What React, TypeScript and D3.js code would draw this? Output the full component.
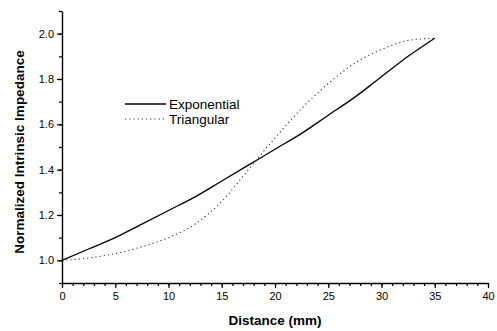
import React, { useEffect, useRef } from 'react';
import * as d3 from 'd3';

// distance (mm) samples and impedance values
const distance = [0, 2.5, 5, 7.5, 10, 12.5, 15, 17.5, 20, 22.5, 25, 27.5, 30, 32.5, 35];
const exponential = [1.0, 1.05, 1.1, 1.16, 1.22, 1.28, 1.35, 1.42, 1.49, 1.56, 1.64, 1.72, 1.81, 1.9, 1.98];
const triangular = [1.0, 1.01, 1.03, 1.06, 1.1, 1.16, 1.26, 1.4, 1.54, 1.67, 1.78, 1.87, 1.93, 1.97, 1.98];
const seriesNames = ['Exponential', 'Triangular'];
const xTicks = [0, 5, 10, 15, 20, 25, 30, 35, 40];
const yTicks = [1.0, 1.2, 1.4, 1.6, 1.8, 2.0];

const W = 497;
const H = 331;

export default function App() {
  const ref = useRef<SVGSVGElement>(null);

  useEffect(() => {
    const svg = d3.select(ref.current);
    svg.selectAll('*').remove();

    const x = d3.scaleLinear().domain([0, 40]).range([62, 488]);
    const y = d3.scaleLinear().domain([0.9, 2.1]).range([283, 11]);
    const font = 'Arial, "Liberation Sans", sans-serif';

    // axes
    const xAxis = svg.append('g').attr('transform', `translate(0,${y(0.9)})`);
    xAxis.call(
      d3.axisBottom(x).tickValues(d3.range(0, 41, 1)).tickSize(3).tickFormat(() => '')
    );
    xAxis.call((g) => g.selectAll('.domain').remove());
    const xMajor = svg.append('g').attr('transform', `translate(0,${y(0.9)})`);
    xMajor.call(
      d3.axisBottom(x).tickValues(xTicks).tickSize(5).tickSizeOuter(0).tickPadding(4).tickFormat(d3.format('d'))
    );

    const yMinor = svg.append('g').attr('transform', `translate(${x(0)},0)`);
    yMinor.call(
      d3.axisLeft(y).tickValues(d3.range(0.9, 2.15, 0.1)).tickSize(3).tickFormat(() => '')
    );
    yMinor.call((g) => g.selectAll('.domain').remove());
    const yMajor = svg.append('g').attr('transform', `translate(${x(0)},0)`);
    yMajor.call(
      d3.axisLeft(y).tickValues(yTicks).tickSize(5).tickSizeOuter(0).tickPadding(3).tickFormat(d3.format('.1f'))
    );

    svg.selectAll('.domain').attr('stroke', '#000').attr('stroke-width', 1.4);
    svg.selectAll('.tick line').attr('stroke', '#000').attr('stroke-width', 1.2);
    svg.selectAll('.tick text').attr('font-family', font).attr('font-size', 11).attr('fill', '#000');

    // curves
    const line = d3
      .line<number>()
      .x((_, i) => x(distance[i]))
      .y((d) => y(d))
      .curve(d3.curveMonotoneX);

    svg.append('path')
      .attr('d', line(exponential))
      .attr('fill', 'none')
      .attr('stroke', '#000')
      .attr('stroke-width', 1.3);

    svg.append('path')
      .attr('d', line(triangular))
      .attr('fill', 'none')
      .attr('stroke', '#333')
      .attr('stroke-width', 1.1)
      .attr('stroke-dasharray', '1.2,3');

    // legend
    const legend = svg.append('g');
    const ly = [104, 119];
    seriesNames.forEach((name, i) => {
      legend.append('line')
        .attr('x1', 125).attr('x2', 166)
        .attr('y1', ly[i]).attr('y2', ly[i])
        .attr('stroke', i === 0 ? '#000' : '#333')
        .attr('stroke-width', i === 0 ? 1.3 : 1.1)
        .attr('stroke-dasharray', i === 0 ? null : '1.2,3');
      legend.append('text')
        .attr('x', 169).attr('y', ly[i])
        .attr('dy', '0.35em')
        .attr('font-family', font)
        .attr('font-size', 13.5)
        .text(name);
    });

    // axis titles
    svg.append('text')
      .attr('x', 275).attr('y', 325)
      .attr('text-anchor', 'middle')
      .attr('font-family', font)
      .attr('font-weight', 'bold')
      .attr('font-size', 13.5)
      .text('Distance (mm)');

    svg.append('text')
      .attr('transform', `translate(24,152) rotate(-90)`)
      .attr('text-anchor', 'middle')
      .attr('font-family', font)
      .attr('font-weight', 'bold')
      .attr('font-size', 13.5)
      .text('Normalized Intrinsic Impedance');
  }, []);

  return (
    <svg
      ref={ref}
      width={W}
      height={H}
      style={{ position: 'absolute', left: 0, top: 0, background: '#fff' }}
    />
  );
}
